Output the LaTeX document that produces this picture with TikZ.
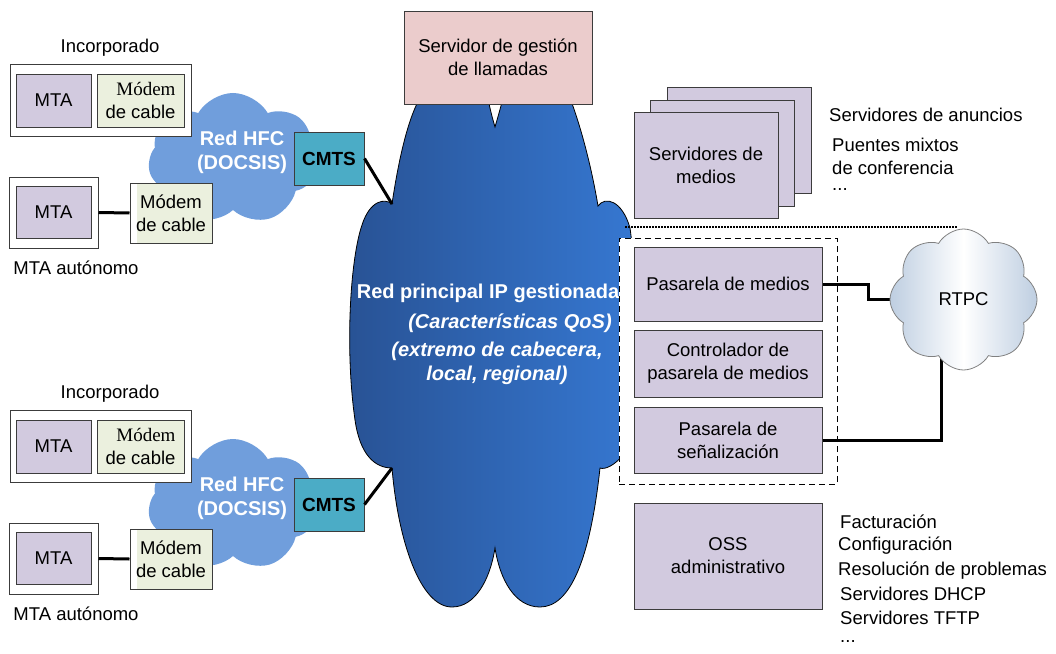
\documentclass[tikz,border=0pt]{standalone}
\usepackage{fontspec}
\setmainfont{Liberation Sans}
\newfontfamily\serifm{Liberation Serif}
\usepackage{tikz}
\usetikzlibrary{shapes.symbols}
\definecolor{lav}{RGB}{210,202,223}
\definecolor{mgreen}{RGB}{235,240,222}
\definecolor{pink}{RGB}{235,204,204}
\definecolor{teal}{RGB}{75,172,198}
\definecolor{hfcblue}{RGB}{112,158,220}
\definecolor{cdark}{RGB}{40,82,148}
\definecolor{clight}{RGB}{54,120,210}
\definecolor{rtpcblue}{RGB}{190,206,225}
\definecolor{edge}{RGB}{60,60,60}

\begin{document}
\begin{tikzpicture}[x=1pt, y=-1pt,
		every node/.style={font=\fontsize{18.5}{23}\selectfont, inner sep=0pt},
		box/.style={draw=edge, line width=1pt, fill=lav, align=center},
		wire/.style={line width=3pt},
		lbl/.style={anchor=west},
		bold/.style={font=\fontsize{20}{24}\selectfont\bfseries, text=white, align=center},
		hfc/.style={cloud, cloud puffs=7, cloud puff arc=120, fill=hfcblue, minimum width=170, minimum height=132},
		rtpc/.style={cloud, cloud puffs=8, cloud puff arc=120, draw=gray, line width=0.8pt,
			left color=rtpcblue, right color=rtpcblue, middle color=white, minimum width=147, minimum height=141}]
		\useasboundingbox (0,0) rectangle (1056,653);
		
		% core network
		\coordinate (ca) at (392,204);
		\coordinate (cb) at (392,468);
		\shadedraw[draw=black, line width=0.8pt, left color=cdark, right color=clight]
			(ca) .. controls (400,150) and (410,115) .. (420,98) -- (488,98)
			.. controls (490,110) and (493,120) .. (495,127)
			.. controls (497,120) and (500,110) .. (503,98) -- (570,98)
			.. controls (582,130) and (592,170) .. (598,206)
			.. controls (605,196) and (622,200) .. (630,228)
			.. controls (640,300) and (640,420) .. (623,455)
			.. controls (615,465) and (605,470) .. (600,468)
			.. controls (590,560) and (570,607) .. (540,607)
			.. controls (515,607) and (500,580) .. (495,548)
			.. controls (490,580) and (475,607) .. (452,607)
			.. controls (420,607) and (398,540) .. (cb)
			.. controls (375,468) and (360,455) .. (355,420)
			.. controls (345,350) and (350,260) .. (362,225)
			.. controls (370,200) and (385,198) .. (ca) -- cycle;
		\node[bold] (core) at (488,293) {Red principal IP gestionada};
		\node[bold, font=\fontsize{20}{24}\selectfont\bfseries\itshape] (qos) at (510,323) {(Características QoS)};
		\node[bold, font=\fontsize{20}{24}\selectfont\bfseries\itshape] (ext) at (497,363) {(extremo de cabecera,\\local, regional)};
		
		\node[box, fill=pink, minimum width=188, minimum height=93] (srv) at (498,57.5) {Servidor de gestión\\de llamadas};
		
		% access side
		\foreach \dy/\s in {0/a,346/b}{
			\begin{scope}[shift={(0,\dy)}]
				\node[hfc] (hfc\s) at (233,159) {};
				\node[bold] (hfct\s) at (242,152) {Red HFC\\(DOCSIS)};
				\node (inct\s) at (110,48) {Incorporado};
				\node[box, fill=white, minimum width=181, minimum height=72] (inc\s) at (100.5,100) {};
				\node[box, minimum width=75, minimum height=53] (mtai\s) at (53.5,100.5) {MTA};
				\node[box, fill=mgreen, minimum width=87, minimum height=53, align=right] (modi\s) at (140.5,100.5) {{\serifm\fontsize{19}{23}\selectfont Módem}\\de cable};
				\node[box, fill=white, minimum width=89, minimum height=71] (aut\s) at (53.5,212.5) {};
				\node[box, minimum width=75, minimum height=52] (mtaa\s) at (53.5,212) {MTA};
				\node[box, fill=white, minimum width=82, minimum height=60,
					path picture={\fill[mgreen] ([xshift=7pt]path picture bounding box.south west) rectangle (path picture bounding box.north east);}]
					(moda\s) at (171,213) {Módem\\de cable};
				\node (autt\s) at (76,268) {MTA autónomo};
				\node[box, fill=teal, minimum width=70, minimum height=53, font=\fontsize{19}{23}\selectfont\bfseries] (cmts\s) at (329,158.5) {CMTS};
				\draw[wire] (aut\s.east) -- (moda\s.west);
				\draw[wire] (cmts\s.east) -- (c\s);
			\end{scope}
		}
		
		% media servers
		\node[box, minimum width=144, minimum height=106] (ms3) at (739,140) {};
		\node[box, minimum width=144, minimum height=106] (ms2) at (722,153) {};
		\node[box, minimum width=144, minimum height=106] (ms1) at (706,165) {Servidores de\\medios};
		\node[lbl] (ann) at (829,115) {Servidores de anuncios};
		\node[lbl, align=left] (conf) at (832,156) {Puentes mixtos\\de conferencia};
		\node[lbl] (msd) at (832,190) {...};
		
		\coordinate (d1) at (625,227);
		\coordinate (d2) at (958,227);
		\draw[line width=1.5pt, dash pattern=on 1.5pt off 1.5pt] (d1) -- (d2);
		
		% gateways
		\node[draw, fill=white, line width=1pt, dash pattern=on 6pt off 4pt, minimum width=218, minimum height=246] (gw) at (728,361) {};
		\node[box, minimum width=188, minimum height=74] (pm) at (728,284) {Pasarela de medios};
		\node[box, minimum width=188, minimum height=67] (ctl) at (728,363.5) {Controlador de\\pasarela de medios};
		\node[box, minimum width=188, minimum height=66] (ps) at (728,440) {Pasarela de\\señalización};
		
		\coordinate (rin) at (963.5,299.5);
		\draw[wire] (pm.east) -- ++(46,0) |- (rin);
		\draw[wire] (ps.east) -| ([xshift=-22pt]rin);
		\node[rtpc] (pstn) at (rin) {RTPC};
		
		% back office
		\node[box, minimum width=188, minimum height=106] (oss) at (728,556) {OSS\\administrativo};
		\node[lbl] (fac) at (840,522) {Facturación};
		\node[lbl] (cfg) at (838,546) {Configuración};
		\node[lbl] (res) at (838,571) {Resolución de problemas};
		\node[lbl] (dhcp) at (840,594) {Servidores DHCP};
		\node[lbl] (tftp) at (840,618) {Servidores TFTP};
		\node[lbl] (ossd) at (840,641) {...};
		
	\end{tikzpicture}
\end{document}
